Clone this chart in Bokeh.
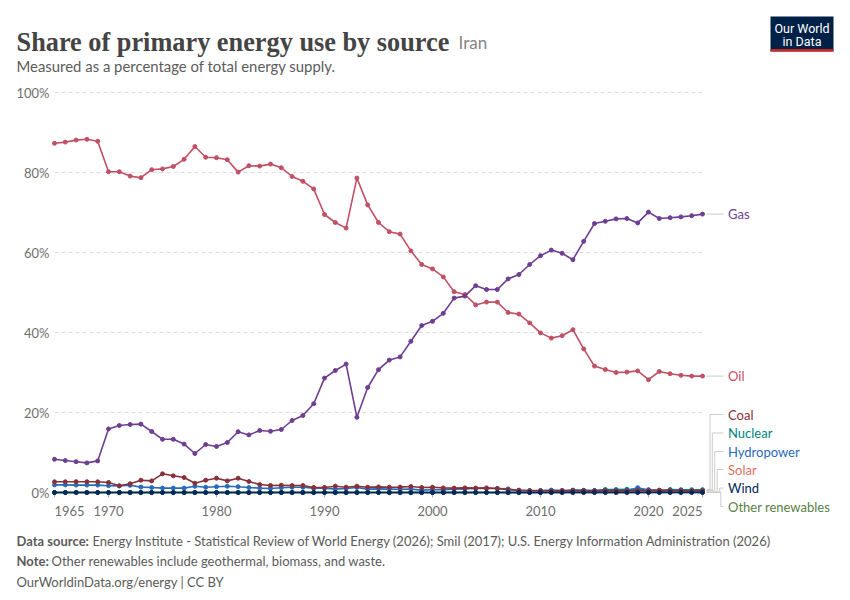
from bokeh.plotting import figure
from bokeh.models import ColumnDataSource, Range1d
from bokeh.core.properties import value
from bokeh.embed import file_html
from bokeh.resources import INLINE

# ---------------- data ----------------
years = list(range(1965, 2026))

oil = [87.3, 87.6, 88.1, 88.3, 87.8,
       80.2, 80.2, 79.1, 78.7, 80.7, 80.9, 81.5, 83.3, 86.5, 83.8,
       83.7, 83.2, 80.1, 81.7, 81.6, 82.1, 81.2, 79.0, 77.8, 75.9,
       69.5, 67.5, 66.1, 78.6, 71.9, 67.5, 65.2, 64.6, 60.4, 57.0,
       55.9, 53.9, 50.2, 49.5, 46.9, 47.6, 47.6, 45.0, 44.6, 42.4,
       39.9, 38.6, 39.2, 40.7, 35.9, 31.6, 30.75, 30.0, 30.1, 30.4,
       28.2, 30.25, 29.7, 29.3, 29.1, 29.1]

gas = [8.3, 8.0, 7.7, 7.4, 7.9,
       15.9, 16.75, 17.0, 17.1, 15.25, 13.3, 13.3, 12.1, 9.75, 12.0,
       11.5, 12.5, 15.2, 14.4, 15.5, 15.3, 15.75, 18.0, 19.25, 22.2,
       28.6, 30.5, 32.1, 18.8, 26.25, 30.7, 33.1, 33.9, 37.8, 41.75,
       42.8, 44.8, 48.6, 49.1, 51.7, 50.75, 50.75, 53.4, 54.5, 57.0,
       59.2, 60.6, 59.8, 58.2, 62.8, 67.25, 67.8, 68.4, 68.5, 67.4,
       70.1, 68.5, 68.7, 68.9, 69.2, 69.6]

coal = [2.67, 2.67, 2.7, 2.7, 2.67,
        2.5, 1.67, 2.17, 3.08, 2.9, 4.67, 4.17, 3.75, 2.33, 3.08,
        3.58, 2.9, 3.58, 2.75, 2.0, 1.75, 1.83, 1.75, 1.75, 1.25,
        1.25, 1.58, 1.33, 1.58, 1.33, 1.4, 1.33, 1.35, 1.5, 1.25,
        1.3, 1.15, 1.1, 1.15, 1.1, 1.15, 1.0, 0.7, 0.6, 0.45,
        0.45, 0.45, 0.5, 0.5, 0.5, 0.45, 0.5, 0.5, 0.45, 0.5,
        0.5, 0.6, 0.5, 0.5, 0.45, 0.45]

hydropower = [1.9, 1.9, 1.85, 1.85, 1.85,
              1.7, 1.65, 1.8, 1.35, 1.25, 1.1, 1.1, 1.1, 1.55, 1.3,
              1.45, 1.55, 1.45, 1.25, 1.1, 1.0, 1.2, 1.3, 1.3, 1.05,
              1.05, 0.85, 1.0, 1.25, 0.85, 0.9, 0.85, 0.8, 0.85, 0.6,
              0.7, 0.7, 0.8, 0.9, 1.0, 1.0, 1.0, 0.9, 0.4, 0.5,
              0.5, 0.6, 0.5, 0.5, 0.5, 0.5, 0.6, 0.5, 0.5, 1.2,
              0.6, 0.5, 0.5, 0.5, 0.5, 0.5]

nuclear = [0.0] * 46 + [0.05, 0.3, 0.6, 0.55, 0.45, 0.75, 0.75, 0.8, 0.7,
                        0.7, 0.4, 0.75, 0.7, 0.7, 0.7]

solar = [0.0] * 50 + [0.01, 0.01, 0.02, 0.03, 0.04, 0.05, 0.06, 0.07, 0.08, 0.1, 0.12]

wind = [0.0] * 39 + [0.01, 0.01, 0.01, 0.01, 0.01, 0.01, 0.01, 0.01, 0.01, 0.02,
                     0.02, 0.02, 0.03, 0.03, 0.03, 0.03, 0.03, 0.03, 0.03, 0.03,
                     0.03, 0.03]

other_renewables = [0.0] * 35 + [0.01, 0.01, 0.01, 0.01, 0.01, 0.01, 0.01, 0.01, 0.01, 0.01,
                                 0.02, 0.02, 0.02, 0.02, 0.02, 0.02, 0.02, 0.02, 0.02, 0.02,
                                 0.02, 0.02, 0.02, 0.02, 0.02, 0.02]

x_ticks = [1965, 1970, 1980, 1990, 2000, 2010, 2020, 2025]
y_ticks = [0, 20, 40, 60, 80, 100]

series_names = ["Other renewables", "Solar", "Nuclear", "Hydropower", "Coal", "Wind", "Oil", "Gas"]
series_values = [other_renewables, solar, nuclear, hydropower, coal, wind, oil, gas]
series_colors = ["#578145", "#E56E5A", "#00847E", "#286BBB", "#883039", "#00295B", "#C15065", "#6D3E91"]

title = "Share of primary energy use by source"
entity = "Iran"
subtitle = "Measured as a percentage of total energy supply."
source_label = "Data source:"
source_text = ("Energy Institute - Statistical Review of World Energy (2026); Smil (2017); "
               "U.S. Energy Information Administration (2026)")
note_label = "Note:"
note_text = "Other renewables include geothermal, biomass, and waste."
url_text = "OurWorldinData.org/energy | CC BY"

# ---------------- layout (canvas px -> data) ----------------
W, H = 842, 592
PX_LEFT, PX_RIGHT = 54.0, 702.0      # plot area x extent in px
PX_TOP, PX_BOTTOM = 92.0, 492.0      # plot area y extent in px
X0, X1 = years[0], years[-1]
Y0, Y1 = 0.0, 100.0
KX = (X1 - X0) / (PX_RIGHT - PX_LEFT)
KY = (Y1 - Y0) / (PX_BOTTOM - PX_TOP)


def dx(px):
    return X0 + (px - PX_LEFT) * KX


def dy(py):
    return Y1 - (py - PX_TOP) * KY


FONT = value("Lato")
GREY = "#5b5b5b"
AXIS_GREY = "#6e6e6e"

p = figure(width=W, height=H, x_range=Range1d(dx(0), dx(W)), y_range=Range1d(dy(H), dy(0)),
           output_backend="svg", toolbar_location=None,
           x_axis_type=None, y_axis_type=None, min_border=0)
p.outline_line_color = None
p.background_fill_color = "white"
p.border_fill_color = "white"


def txt(x, y, t, size="13px", color=GREY, align="left", baseline="alphabetic",
        font=FONT, style="normal"):
    p.text(x=x, y=y, text=t, text_font=font, text_font_size=value(size),
           text_color=color, text_align=align, text_baseline=baseline,
           text_font_style=style)


# grid lines
p.segment(x0=[X0] * len(y_ticks), x1=[X1] * len(y_ticks), y0=y_ticks, y1=y_ticks,
          line_color="#dddddd", line_width=1, line_dash="4 3")
# y tick labels
txt([dx(49)] * len(y_ticks), y_ticks, [f"{t}%" for t in y_ticks], color=AXIS_GREY,
    align="right", baseline="middle")
# x ticks
p.segment(x0=x_ticks, x1=x_ticks, y0=[Y0] * len(x_ticks), y1=[dy(497)] * len(x_ticks),
          line_color="#b0b0b0", line_width=1)
xl_y = dy(510.5)
txt([x_ticks[0]], [xl_y], [str(x_ticks[0])], color=AXIS_GREY, align="left")
txt(x_ticks[1:-1], [xl_y] * (len(x_ticks) - 2), [str(t) for t in x_ticks[1:-1]],
    color=AXIS_GREY, align="center")
txt([x_ticks[-1]], [xl_y], [str(x_ticks[-1])], color=AXIS_GREY, align="right")

# series
for name, vals, col in zip(series_names, series_values, series_colors):
    src = ColumnDataSource(dict(x=years, y=vals))
    p.line("x", "y", source=src, line_color=col, line_width=1.6)
    p.scatter("x", "y", source=src, size=4, fill_color=col, line_color=col)

# end labels with connectors
col_of = dict(zip(series_names, series_colors))
val_of = dict(zip(series_names, series_values))
x_start, x_end, x_text = dx(706), dx(723), dx(727.5)
conn = dict(x0=[], y0=[], x1=[], y1=[])

for name in ["Gas", "Oil"]:
    v = val_of[name][-1]
    conn["x0"].append(x_start); conn["y0"].append(v)
    conn["x1"].append(x_end); conn["y1"].append(v)
    txt([x_text], [v], [name], color=col_of[name], baseline="middle")

small_order = ["Coal", "Nuclear", "Hydropower", "Solar", "Wind", "Other renewables"]
small_label_y = [dy(414), dy(432.5), dy(451), dy(469), dy(487.5), dy(506)]
small_elbow_x = [dx(709.5), dx(711.8), dx(714.2), dx(716.7), dx(719.3), dx(720.3)]
for name, ly, ex in zip(small_order, small_label_y, small_elbow_x):
    ys = val_of[name][-1]
    for a, b, c, d in ((x_start, ys, ex, ys), (ex, ys, ex, ly), (ex, ly, x_end, ly)):
        conn["x0"].append(a); conn["y0"].append(b)
        conn["x1"].append(c); conn["y1"].append(d)
    txt([x_text], [ly], [name], color=col_of[name], baseline="middle")

p.segment("x0", "y0", "x1", "y1", source=ColumnDataSource(conn),
          line_color="#cccccc", line_width=1)

# header
txt([dx(16)], [dy(41.5)], [title], size="26.3px", color="#444444",
    font=value("Liberation Serif"), style="bold")
txt([dx(458)], [dy(41.5)], [entity], size="17px", color="#858585")
txt([dx(16)], [dy(65.5)], [subtitle], size="14.9px", color=GREY)

# logo
p.quad(left=[dx(770)], right=[dx(833)], top=[dy(16)], bottom=[dy(51)],
       fill_color="#002147", line_color=None)
p.quad(left=[dx(770)], right=[dx(833)], top=[dy(48.5)], bottom=[dy(51)],
       fill_color="#ce261e", line_color=None)
txt([dx(801.5), dx(801.5)], [dy(28.0), dy(40.5)], ["Our World", "in Data"],
    size="12.5px", color="white", align="center", font=value("Roboto"))

# footer
txt([dx(16)], [dy(540.5)], [source_label], style="bold")
txt([dx(92)], [dy(540.5)], [source_text])
txt([dx(16)], [dy(560.5)], [note_label], style="bold")
txt([dx(51)], [dy(560.5)], [note_text])
txt([dx(16)], [dy(581)], [url_text])

open("out.html", "w").write(file_html(p, INLINE))
